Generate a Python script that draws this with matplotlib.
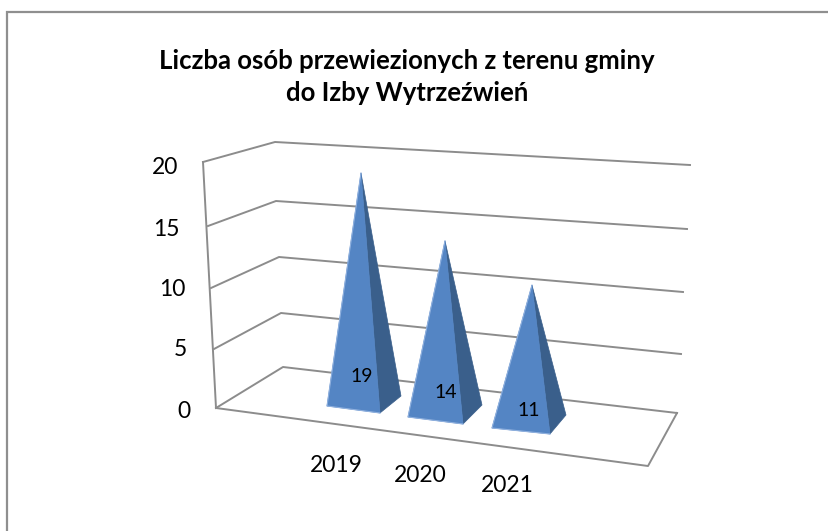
import matplotlib
matplotlib.use('Agg')
import matplotlib.pyplot as plt
import matplotlib.patches as mpatches

years = ['2019', '2020', '2021']
counts = [19, 14, 11]
y_ticks = [0, 5, 10, 15, 20]
title_lines = ['Liczba osób przewiezionych z terenu gminy', 'do Izby Wytrzeźwień']

plt.rcParams['font.family'] = ['Lato', 'DejaVu Sans']

GRID = '#8c8c8c'
FRONT = '#5485c4'
SIDE = '#3a5f8b'
EDGE = '#8fb0de'

# hand placed perspective, all in image pixels
wall_front = [(216, 408), (214, 349), (211, 288), (208, 226), (203, 162)]
wall_back = [(283, 367), (281, 313), (279, 257), (276, 201), (275, 142)]
wall_right = [(677, 413), (681, 354), (683, 292), (687, 229), (690, 165)]
floor_corner = (648, 466)
tick_label_pos = [(191, 411), (187, 350), (185, 290), (180, 229), (178, 167)]

# base of each pyramid: front left, front right, back right
bases = [((327, 406), (380, 413), (401, 396)),
         ((408, 417), (463, 424), (482, 405)),
         ((492, 428), (550, 434), (566, 415))]
px_per_unit = [12.0, 12.15, 12.4]
apex_x = [361, 445, 532]
year_label_pos = [(336, 465), (420, 475), (507, 486)]
count_label_pos = [(362, 376), (446, 393), (529, 410)]

fig = plt.figure(figsize=(8.29, 5.31), dpi=100)
ax = fig.add_axes([0, 0, 1, 1])
ax.set_xlim(0, 829)
ax.set_ylim(531, 0)
ax.axis('off')

# chart frame, only top and left are visible
ax.plot([7, 7, 829], [531, 12, 12], color='#8f8f8f', lw=1.6, solid_joinstyle='miter')

# grid lines and walls
for i, tick in enumerate(y_ticks):
    f, b, r = wall_front[i], wall_back[i], wall_right[i]
    ax.plot([f[0], b[0], r[0]], [f[1], b[1], r[1]], color=GRID, lw=1.4, zorder=1)
    ax.text(tick_label_pos[i][0], tick_label_pos[i][1], str(tick), ha='right', va='center',
            fontsize=16.5, color='black')
ax.plot([wall_front[0][0], wall_front[-1][0]], [wall_front[0][1], wall_front[-1][1]],
        color=GRID, lw=1.4, zorder=1)
ax.plot([wall_front[0][0], floor_corner[0], wall_right[0][0]],
        [wall_front[0][1], floor_corner[1], wall_right[0][1]], color=GRID, lw=1.4, zorder=1)

# pyramids, height comes from the value
for i, value in enumerate(counts):
    fl, fr, br = bases[i]
    base_y = (fl[1] + br[1]) / 2
    apex = (apex_x[i], base_y - value * px_per_unit[i])
    ax.add_patch(mpatches.Polygon([fr, br, apex], closed=True, facecolor=SIDE, edgecolor=SIDE,
                                  lw=0.5, zorder=3))
    ax.add_patch(mpatches.Polygon([fl, fr, apex], closed=True, facecolor=FRONT, edgecolor=FRONT,
                                  lw=0.5, zorder=4))
    # soft light rim on left and bottom of the front face
    ax.plot([apex[0], fl[0], fr[0]], [apex[1], fl[1], fr[1]], color=EDGE, lw=0.8, zorder=4)
    ax.text(count_label_pos[i][0], count_label_pos[i][1], str(value), ha='center', va='center',
            fontsize=14, color='black', zorder=5)
    ax.text(year_label_pos[i][0], year_label_pos[i][1], years[i], ha='center', va='center',
            fontsize=16.5, color='black')

ax.text(407, 61, title_lines[0], ha='center', va='center', fontsize=18.5, fontweight='bold')
ax.text(407, 93, title_lines[1], ha='center', va='center', fontsize=18.5, fontweight='bold')

plt.savefig('out.png', dpi=100)
